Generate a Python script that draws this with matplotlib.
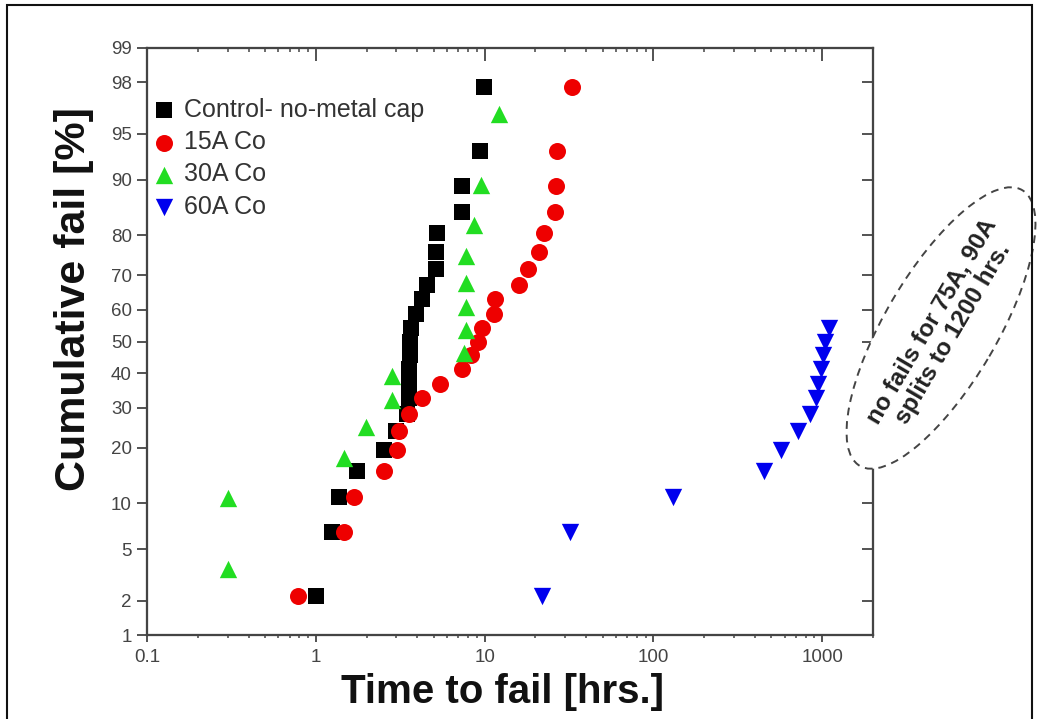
import numpy as np
import matplotlib.pyplot as plt
from matplotlib.patches import Ellipse, Rectangle
from matplotlib.transforms import IdentityTransform
from statistics import NormalDist

plt.rcParams['font.family'] = ['Liberation Sans', 'DejaVu Sans']

# cumulative fail positions (%) and times to fail (hrs)
ctrl_pct = [2.17, 6.52, 10.87, 15.22, 19.57, 23.91, 28.26, 32.61, 36.96, 41.30, 45.65, 50.0,
            54.35, 58.70, 63.04, 67.39, 71.74, 76.09, 80.43, 84.78, 89.13, 93.48, 97.83]
ctrl_hrs = [1.0, 1.25, 1.38, 1.76, 2.53, 2.98, 3.45, 3.55, 3.58, 3.58, 3.6, 3.6,
            3.66, 3.92, 4.25, 4.54, 5.14, 5.14, 5.2, 7.3, 7.3, 9.4, 9.9]

co15_pct = ctrl_pct
co15_hrs = [0.78, 1.47, 1.69, 2.53, 3.02, 3.1, 3.55, 4.25, 5.42, 7.3, 8.3, 9.2,
            9.6, 11.3, 11.6, 15.9, 18.2, 20.9, 22.4, 26.2, 26.6, 27.0, 33.0]

co30_pct = [3.57, 10.71, 17.86, 25.0, 32.14, 39.29, 46.43, 53.57, 60.71, 67.86,
            75.0, 82.14, 89.29, 96.43]
co30_hrs = [0.30, 0.30, 1.47, 1.98, 2.83, 2.83, 7.6, 7.8, 7.8, 7.8, 7.8, 8.6, 9.5, 12.1]

co60_pct = ctrl_pct[:13]
co60_hrs = [22, 32, 130, 455, 570, 715, 850, 915, 950, 985, 1010, 1040, 1100]

y_ticks = [1, 2, 5, 10, 20, 30, 40, 50, 60, 70, 80, 90, 95, 98, 99]
x_ticks = [0.1, 1, 10, 100, 1000]
x_labels = ['0.1', '1', '10', '100', '1000']

_nd = NormalDist()
_ppf = np.vectorize(_nd.inv_cdf, otypes=[float])
_cdf = np.vectorize(_nd.cdf, otypes=[float])


def prob_fwd(p):
    p = np.clip(np.asarray(p, dtype=float), 0.001, 99.999) / 100.0
    return _ppf(p)


def prob_inv(z):
    return _cdf(np.asarray(z, dtype=float)) * 100.0


fig = plt.figure(figsize=(10.39, 7.19), dpi=100)
ax = fig.add_axes([147 / 1039, 1 - 635 / 719, 726 / 1039, 587 / 719])

ax.set_xscale('log')
ax.set_yscale('function', functions=(prob_fwd, prob_inv))
ax.set_xlim(0.1, 2000)
ax.set_ylim(1, 99)

ms = 120
ax.scatter(ctrl_hrs, ctrl_pct, marker='s', s=ms, c='#000000', linewidths=0,
           label='Control- no-metal cap', zorder=3)
ax.scatter(co15_hrs, co15_pct, marker='o', s=ms * 1.25, c='#ee0000', linewidths=0,
           label='15A Co', zorder=3)
ax.scatter(co30_hrs, co30_pct, marker='^', s=ms * 1.3, c='#22dd22', linewidths=0,
           label='30A Co', zorder=3)
ax.scatter(co60_hrs, co60_pct, marker='v', s=ms * 1.3, c='#0000ee', linewidths=0,
           label='60A Co', zorder=3)

spine_col = '#444444'
for sp in ax.spines.values():
    sp.set_linewidth(1.5)
    sp.set_color(spine_col)

ax.set_yticks(y_ticks)
ax.set_yticklabels([str(v) for v in y_ticks])
ax.yaxis.set_minor_locator(plt.NullLocator())
ax.set_xticks(x_ticks)
ax.set_xticklabels(x_labels)
ax.xaxis.set_minor_locator(plt.LogLocator(base=10, subs=np.arange(2, 10)))
ax.xaxis.set_minor_formatter(plt.NullFormatter())
ax.tick_params(axis='y', which='major', direction='out', length=7, width=1.3,
               color=spine_col, labelsize=13.5, labelcolor='#444444', pad=4)
ax.tick_params(axis='x', which='major', direction='out', length=5, width=1.3,
               color=spine_col, labelsize=13.5, labelcolor='#444444', pad=5)
ax.tick_params(axis='x', which='minor', direction='out', length=2.5, width=1.1,
               color=spine_col)

# right and top ticks point inward
ax_r = ax.twinx()
ax_r.set_yscale('function', functions=(prob_fwd, prob_inv))
ax_r.set_ylim(1, 99)
ax_r.set_yticks(y_ticks)
ax_r.yaxis.set_minor_locator(plt.NullLocator())
ax_r.tick_params(axis='y', direction='in', length=8, width=1.3, color=spine_col,
                 labelright=False)
ax_t = ax.twiny()
ax_t.set_xscale('log')
ax_t.set_xlim(0.1, 2000)
ax_t.set_xticks(x_ticks)
ax_t.xaxis.set_minor_locator(plt.LogLocator(base=10, subs=np.arange(2, 10)))
ax_t.tick_params(axis='x', which='major', direction='in', length=9, width=1.3,
                 color=spine_col, labeltop=False)
ax_t.tick_params(axis='x', which='minor', direction='in', length=3, width=1.1,
                 color=spine_col, labeltop=False)
for a in (ax_r, ax_t):
    for sp in a.spines.values():
        sp.set_linewidth(1.5)
        sp.set_color(spine_col)

ax.set_xlabel('Time to fail [hrs.]', fontsize=29, fontweight='bold', color='#111111')
ax.xaxis.set_label_coords(0.49, -0.065)
ax.set_ylabel('Cumulative fail [%]', fontsize=31, fontweight='bold', color='#111111')
ax.yaxis.set_label_coords(-0.073, 0.572)

ax.legend(loc='upper left', bbox_to_anchor=(0.012, 0.915), frameon=False,
          fontsize=18, labelcolor='#333333', handlelength=0.7, handletextpad=0.45,
          labelspacing=0.33, borderpad=0, borderaxespad=0, scatterpoints=1)

# dashed ellipse note on the right
ell = Ellipse((941, 719 - 328), width=320, height=112, angle=59.5,
              transform=IdentityTransform(), facecolor='white',
              edgecolor='#444444', linestyle=(0, (4, 3)), linewidth=1.4, zorder=5)
fig.add_artist(ell)
fig.text(942 / 1039, 1 - 327 / 719, 'no fails for 75A, 90A\nsplits to 1200 hrs.',
         rotation=59.5, rotation_mode='anchor', ha='center', va='center',
         multialignment='center', fontsize=17.5, fontweight='bold', color='#222222',
         linespacing=1.1, zorder=6)

# outer frame of the picture
fig.add_artist(Rectangle((7, -10), 1025, 719 - 5 + 10, transform=IdentityTransform(),
                         fill=False, edgecolor='#111111', linewidth=1.5, zorder=7))

fig.savefig('out.png', dpi=100)
